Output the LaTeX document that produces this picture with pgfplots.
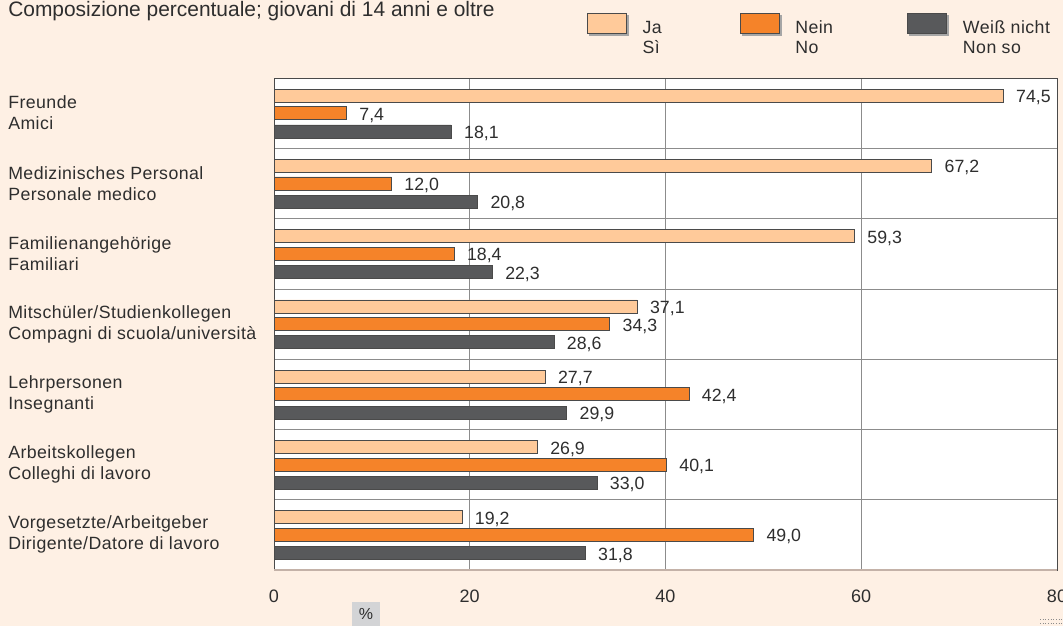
\documentclass[border=0pt]{standalone}
\usepackage{pgfplots}
\pgfplotsset{compat=1.18}
\usepackage{pgfplotstable}
\usepackage{fontspec}
\setmainfont{Liberation Sans}[LetterSpace=2.5]
\newfontfamily\valfont{Liberation Sans}
\definecolor{bg}{HTML}{FEF0E4}
\definecolor{txt}{HTML}{2E2E2E}
\definecolor{cja}{HTML}{FFCA9A}
\definecolor{cnein}{HTML}{F58329}
\definecolor{cweiss}{HTML}{58595B}
\definecolor{gridc}{HTML}{8C8C8C}
\definecolor{bordc}{HTML}{4A4A4A}
\definecolor{botc}{HTML}{C4B2A8}
\definecolor{pctbox}{HTML}{D3D4D6}

\pgfplotstableread{
g ja nein weiss
6 74.5 7.4 18.1
5 67.2 12.0 20.8
4 59.3 18.4 22.3
3 37.1 34.3 28.6
2 27.7 42.4 29.9
1 26.9 40.1 33.0
0 19.2 49.0 31.8
}\datatab

\begin{document}
\begin{tikzpicture}
\useasboundingbox (0,0) rectangle (797.25pt,469.5pt);
\fill[bg] (0,0) rectangle (797.25pt,469.5pt);
\node[anchor=base west, inner sep=0pt, text=txt, font=\valfont\fontsize{15.7}{18}\selectfont] at (6pt,457.3pt) {Composizione percentuale; giovani di 14 anni e oltre};
\begin{axis}[
  at={(205.5pt,42pt)}, anchor=south west,
  scale only axis, width=587.25pt, height=369pt,
  xbar, bar width=9.75pt, bar shift=0pt,
  xmin=0, xmax=80, ymin=-0.5, ymax=6.5,
  xtick={0,20,40,60,80},
  ytick={0,...,6},
  yticklabels={{Vorgesetzte/Arbeitgeber\\Dirigente/Datore di lavoro},
               {Arbeitskollegen\\Colleghi di lavoro},
               {Lehrpersonen\\Insegnanti},
               {Mitschüler/Studienkollegen\\Compagni di scuola/università},
               {Familienangehörige\\Familiari},
               {Medizinisches Personal\\Personale medico},
               {Freunde\\Amici}},
  minor ytick={0.5,1.5,...,5.5},
  yminorgrids, xmajorgrids,
  grid style={gridc, line width=0.5pt},
  minor grid style={gridc, line width=0.5pt},
  major tick length=0pt, minor tick length=0pt,
  axis background/.style={fill=white},
  axis line style={bordc, line width=0.7pt},
  /pgf/number format/assume math mode=true,
  xticklabel style={font=\valfont\fontsize{13.5}{15}\selectfont, text=txt, inner sep=0pt, anchor=north, yshift=-15pt},
  yticklabel style={font=\fontsize{13.3}{15.75}\selectfont, text=txt, align=left, anchor=west, inner sep=0pt, xshift=-199.5pt},
  nodes near coords={\pgfmathprintnumber[use comma,fixed,fixed zerofill,precision=1]{\pgfplotspointmeta}},
  every node near coord/.append style={font=\valfont\fontsize{13.3}{15}\selectfont, text=txt, anchor=west, inner sep=0pt, xshift=9.5pt, yshift=-1.5pt},
  legend columns=3,
  legend image code/.code={
    \fill[black!35] (1.5pt,-6pt) rectangle (30.75pt,9pt);
    \draw[#1] (0pt,-4.5pt) rectangle (29.25pt,10.5pt);
  },
  legend style={at={(0.3997,1.1321)}, anchor=north west, draw=none, fill=none,
    inner sep=0pt, outer sep=0pt,
    nodes={inner sep=0pt, text=txt, font=\fontsize{13.3}{15}\selectfont},
    /tikz/every odd column/.style={column sep=10.5pt}},
  after end axis/.code={
    \draw[botc, line width=1.5pt] (rel axis cs:0,0) -- (rel axis cs:1,0);
  },
]
\addplot[fill=cja, draw=bordc, line width=0.5pt] table[x=ja, y expr=\thisrow{g}+0.25] {\datatab};
\addlegendentry{\makebox[72.75pt][l]{\begin{tabular}[t]{@{}l@{}}Ja\\Sì\end{tabular}}}
\addplot[fill=cnein, draw=bordc, line width=0.5pt] table[x=nein, y expr=\thisrow{g}] {\datatab};
\addlegendentry{\makebox[84pt][l]{\begin{tabular}[t]{@{}l@{}}Nein\\No\end{tabular}}}
\addplot[fill=cweiss, draw=bordc, line width=0.5pt] table[x=weiss, y expr=\thisrow{g}-0.26] {\datatab};
\addlegendentry{\begin{tabular}[t]{@{}l@{}}Weiß nicht\\Non so\end{tabular}}
\end{axis}
\node[fill=pctbox, minimum width=21pt, minimum height=18pt, inner sep=0pt, text=txt, font=\valfont\fontsize{12}{14}\selectfont] at (274.5pt,9pt) {\%};
\draw[gridc, line width=1pt, dash pattern=on 0.8pt off 1.2pt] (780pt,5pt) -- (797pt,5pt);
\draw[gridc, line width=1pt, dash pattern=on 0.8pt off 1.2pt] (780pt,2pt) -- (797pt,2pt);
\end{tikzpicture}
\end{document}
